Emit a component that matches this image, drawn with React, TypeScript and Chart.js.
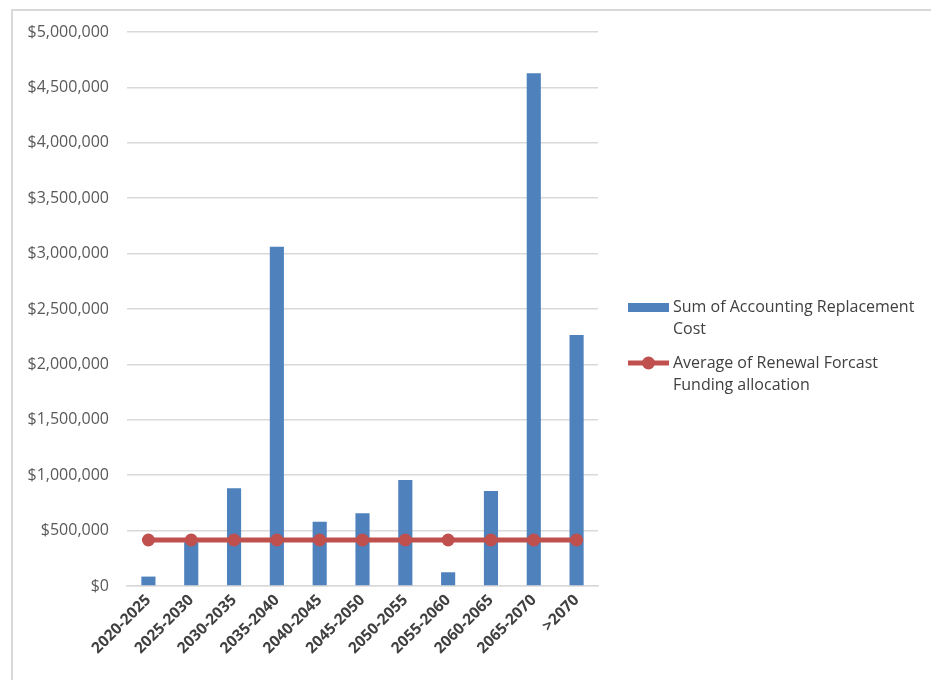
import React, { useEffect, useRef } from "react";
import { Chart, registerables } from "chart.js";

Chart.register(...registerables);

const periods = [
  "2020-2025",
  "2025-2030",
  "2030-2035",
  "2035-2040",
  "2040-2045",
  "2045-2050",
  "2050-2055",
  "2055-2060",
  "2060-2065",
  "2065-2070",
  ">2070",
];

const replacementCost = [
  85000, 395000, 882000, 3062000, 580000, 656000, 957000, 124000, 857000, 4627000, 2265000,
];

const renewalFunding = [
  415000, 415000, 415000, 415000, 415000, 415000, 415000, 415000, 415000, 415000, 415000,
];

const costLabel = ["Sum of Accounting Replacement", "Cost"];
const fundingLabel = ["Average of Renewal Forcast", "Funding allocation"];

const BAR_BLUE = "#4f81bd";
const LINE_RED = "#c0504d";
const GRID = "#d9d9d9";
const FONT = "'Open Sans', 'Noto Sans', sans-serif";

const fmtMoney = (v: number) => "$" + Math.round(v).toLocaleString("en-US");

// Frame around the chart plus a two-line legend on the right
const framePlugin = {
  id: "frameAndLegend",
  beforeDraw(chart: any) {
    const { ctx } = chart;
    ctx.save();
    ctx.fillStyle = "#ffffff";
    ctx.fillRect(0, 0, chart.width, chart.height);
    ctx.strokeStyle = GRID;
    ctx.lineWidth = 2;
    ctx.beginPath();
    ctx.moveTo(12, chart.height);
    ctx.lineTo(12, 10);
    ctx.lineTo(chart.width, 10);
    ctx.stroke();
    ctx.restore();
  },
  afterDraw(chart: any) {
    const { ctx } = chart;
    ctx.save();
    ctx.font = `16px ${FONT}`;
    ctx.fillStyle = "#404040";
    ctx.textBaseline = "middle";
    ctx.textAlign = "left";
    const x0 = 628;
    const textX = 673;
    const lineH = 22;

    // bar entry
    const y1 = 307;
    ctx.fillStyle = BAR_BLUE;
    ctx.fillRect(x0, y1 - 4, 41, 9);
    ctx.fillStyle = "#404040";
    costLabel.forEach((t, i) => ctx.fillText(t, textX, y1 + i * lineH));

    // line entry
    const y2 = 363;
    ctx.strokeStyle = LINE_RED;
    ctx.lineWidth = 5;
    ctx.beginPath();
    ctx.moveTo(x0, y2);
    ctx.lineTo(x0 + 41, y2);
    ctx.stroke();
    ctx.fillStyle = LINE_RED;
    ctx.beginPath();
    ctx.arc(x0 + 20.5, y2, 6.5, 0, Math.PI * 2);
    ctx.fill();
    ctx.fillStyle = "#404040";
    fundingLabel.forEach((t, i) => ctx.fillText(t, textX, y2 + i * lineH));
    ctx.restore();
  },
};

export default function App() {
  const canvasRef = useRef<HTMLCanvasElement | null>(null);

  useEffect(() => {
    document.body.style.margin = "0";
    document.body.style.overflow = "hidden";
    const canvas = canvasRef.current;
    if (!canvas) return;
    const chart = new Chart(canvas, {
      type: "bar",
      data: {
        labels: periods,
        datasets: [
          {
            type: "line",
            label: fundingLabel.join(" "),
            data: renewalFunding,
            borderColor: LINE_RED,
            backgroundColor: LINE_RED,
            borderWidth: 5,
            pointRadius: 6.5,
            pointBackgroundColor: LINE_RED,
            pointBorderColor: LINE_RED,
            pointBorderWidth: 0,
            order: 0,
          },
          {
            type: "bar",
            label: costLabel.join(" "),
            data: replacementCost,
            backgroundColor: BAR_BLUE,
            borderWidth: 0,
            categoryPercentage: 1,
            barPercentage: 0.33,
            order: 1,
          },
        ],
      },
      options: {
        responsive: false,
        animation: false,
        devicePixelRatio: 1,
        layout: { padding: { left: 0, top: 32, right: 333, bottom: 0 } },
        plugins: {
          legend: { display: false },
          tooltip: { enabled: false },
        },
        scales: {
          x: {
            grid: { display: false, drawTicks: false },
            border: { display: true, color: GRID, width: 1.5 },
            ticks: {
              minRotation: 45,
              maxRotation: 45,
              padding: 5,
              color: "#404040",
              font: { family: FONT, size: 15.5, weight: "bold" },
            },
            afterFit: (scale: any) => {
              scale.height = 94;
            },
          },
          y: {
            min: 0,
            max: 5000000,
            grid: { color: GRID, lineWidth: 1.5, drawTicks: false },
            border: { display: false },
            ticks: {
              stepSize: 500000,
              padding: 18,
              color: "#595959",
              font: { family: FONT, size: 16 },
              callback: (v: any) => fmtMoney(Number(v)),
            },
            afterFit: (scale: any) => {
              scale.width = 127;
            },
          },
        },
      },
      plugins: [framePlugin],
    });
    return () => chart.destroy();
  }, []);

  return (
    <div style={{ position: "fixed", left: 0, top: 0, width: 931, height: 680 }}>
      <canvas ref={canvasRef} width={931} height={680} style={{ display: "block" }} />
    </div>
  );
}
